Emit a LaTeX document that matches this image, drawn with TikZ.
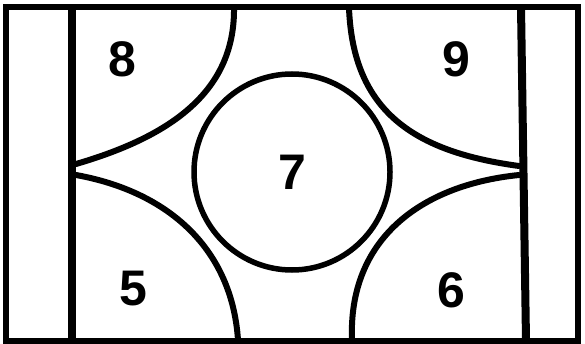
\documentclass[tikz,border=0pt]{standalone}
\usepackage{fontspec}
\setmainfont{Liberation Sans}
\usepackage{tikz}
\usetikzlibrary{positioning}

\begin{document}
\begin{tikzpicture}[
 x=1pt, y=-1pt,
 frame/.style={draw, line width=6.5pt},
 wall/.style={draw, line width=8pt},
 curve/.style={draw, line width=6pt, line cap=round},
 room/.style={circle, draw, line width=5.5pt, minimum size=196pt, inner sep=0pt},
 num/.style={font=\fontsize{50}{50}\selectfont\bfseries, inner sep=0pt}
]
\useasboundingbox (0,0) rectangle (585,344);
\fill[white] (0,0) rectangle (585,344);
\draw[frame] (6,7) rectangle (578,341);
\coordinate (lt) at (72,7);
\coordinate (lb) at (72,341);
\coordinate (rt) at (521,7);
\coordinate (rb) at (526,341);
\draw[wall] (lt) -- (lb);
\draw[wall] (rt) -- (rb);
\node[room, num] (c7) at (292,172) {7};
\node[num] (n8) at (122,59) {8};
\node[num] (n9) at (456,59) {9};
\node[num] (n5) at (133,289) {5};
\node[num] (n6) at (451,290) {6};
\draw[curve] (234,8) .. controls (235,95) and (165,138) .. (76,164);
\draw[curve] (76,175) .. controls (170,192) and (232,250) .. (238,340);
\draw[curve] (349,8) .. controls (353,112) and (415,152) .. (519,166);
\draw[curve] (519,175) .. controls (420,185) and (348,240) .. (352,340);
\end{tikzpicture}
\end{document}
